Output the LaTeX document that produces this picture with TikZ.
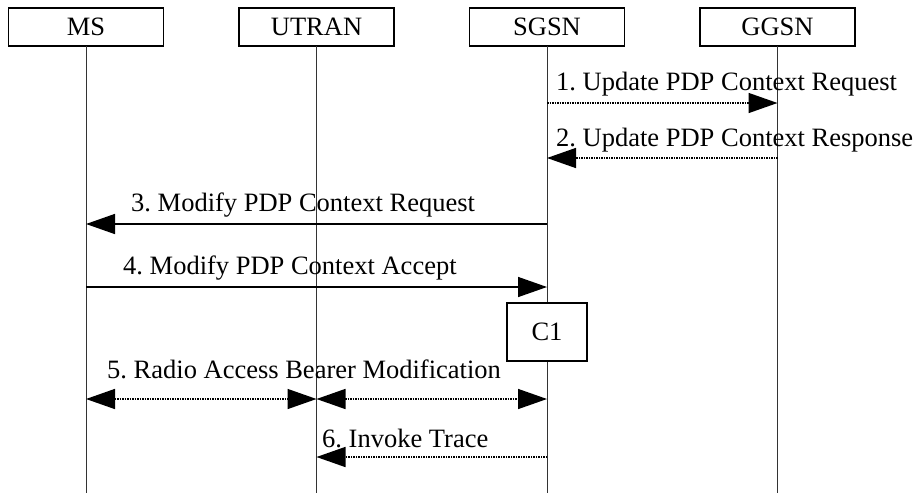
\documentclass[tikz,border=0pt]{standalone}
\usepackage{fontspec}
\setmainfont{Liberation Serif}
\usepackage{tikz}
\usetikzlibrary{arrows.meta, positioning}
\frenchspacing

\begin{document}
\begin{tikzpicture}[x=1pt, y=-1pt, node distance=75.5pt,
  entity/.style={rectangle, draw, line width=1.8pt, outer sep=0pt, inner sep=0pt, minimum width=155pt, minimum height=38pt, font=\fontsize{26.5}{30}\selectfont},
  procbox/.style={rectangle, draw, fill=white, line width=1.8pt, outer sep=0pt, minimum width=80pt, minimum height=58pt, font=\fontsize{26.5}{30}\selectfont},
  lifeline/.style={line width=0.9pt, black!80},
  msg/.style={line width=1.5pt, -{Triangle[length=29pt, width=20pt]}},
  dotmsg/.style={msg, densely dotted},
  twoway/.style={line width=1.5pt, densely dotted, {Triangle[length=29pt, width=20pt]}-{Triangle[length=29pt, width=20pt]}},
  msglabel/.style={anchor=base west, inner sep=0pt, font=\fontsize{26.5}{30}\selectfont}]

  \useasboundingbox (0,0) rectangle (917,493);

  % Entities
  \node[entity] (MS) at (86,27) {MS};
  \node[entity, right=of MS] (UTRAN) {UTRAN};
  \node[entity, right=of UTRAN] (SGSN) {SGSN};
  \node[entity, right=of SGSN] (GGSN) {GGSN};

  % Lifelines
  \coordinate[below=447pt of MS.south] (MSend);
  \coordinate[below=447pt of UTRAN.south] (UTRANend);
  \coordinate[below=447pt of SGSN.south] (SGSNend);
  \coordinate[below=447pt of GGSN.south] (GGSNend);
  \draw[lifeline] (MS.south) -- (MSend);
  \draw[lifeline] (UTRAN.south) -- (UTRANend);
  \draw[lifeline] (SGSN.south) -- (SGSNend);
  \draw[lifeline] (GGSN.south) -- (GGSNend);

  % Message levels
  \coordinate[below=57pt of SGSN.south] (sg1);
  \coordinate[below=57pt of GGSN.south] (gg1);
  \coordinate[below=112pt of SGSN.south] (sg2);
  \coordinate[below=112pt of GGSN.south] (gg2);
  \coordinate[below=178pt of SGSN.south] (sg3);
  \coordinate[below=178pt of MS.south] (ms3);
  \coordinate[below=241pt of MS.south] (ms4);
  \coordinate[below=241pt of SGSN.south] (sg4);
  \coordinate[below=353pt of MS.south] (ms5);
  \coordinate[below=353pt of UTRAN.south] (ut5);
  \coordinate[below=353pt of SGSN.south] (sg5);
  \coordinate[below=411pt of SGSN.south] (sg6);
  \coordinate[below=411pt of UTRAN.south] (ut6);

  % Messages
  \draw[dotmsg] (sg1) -- (gg1);
  \node[msglabel] (L1) at (556,90) {1. Update PDP Context Request};
  \draw[dotmsg] (gg2) -- (sg2);
  \node[msglabel] (L2) at (556,146) {2. Update PDP Context Response};
  \draw[msg] (sg3) -- (ms3);
  \node[msglabel] (L3) at (131,211) {3. Modify PDP Context Request};
  \draw[msg] (ms4) -- (sg4);
  \node[msglabel] (L4) at (123,274) {4. Modify PDP Context Accept};

  \node[procbox] (C1) at (547,332) {C1};

  \draw[twoway] (ms5) -- (ut5);
  \draw[twoway] (ut5) -- (sg5);
  \node[msglabel] (L5) at (107,378) {5. Radio Access Bearer Modification};
  \draw[dotmsg] (sg6) -- (ut6);
  \node[msglabel] (L6) at (322,447) {6. Invoke Trace};

\end{tikzpicture}
\end{document}
